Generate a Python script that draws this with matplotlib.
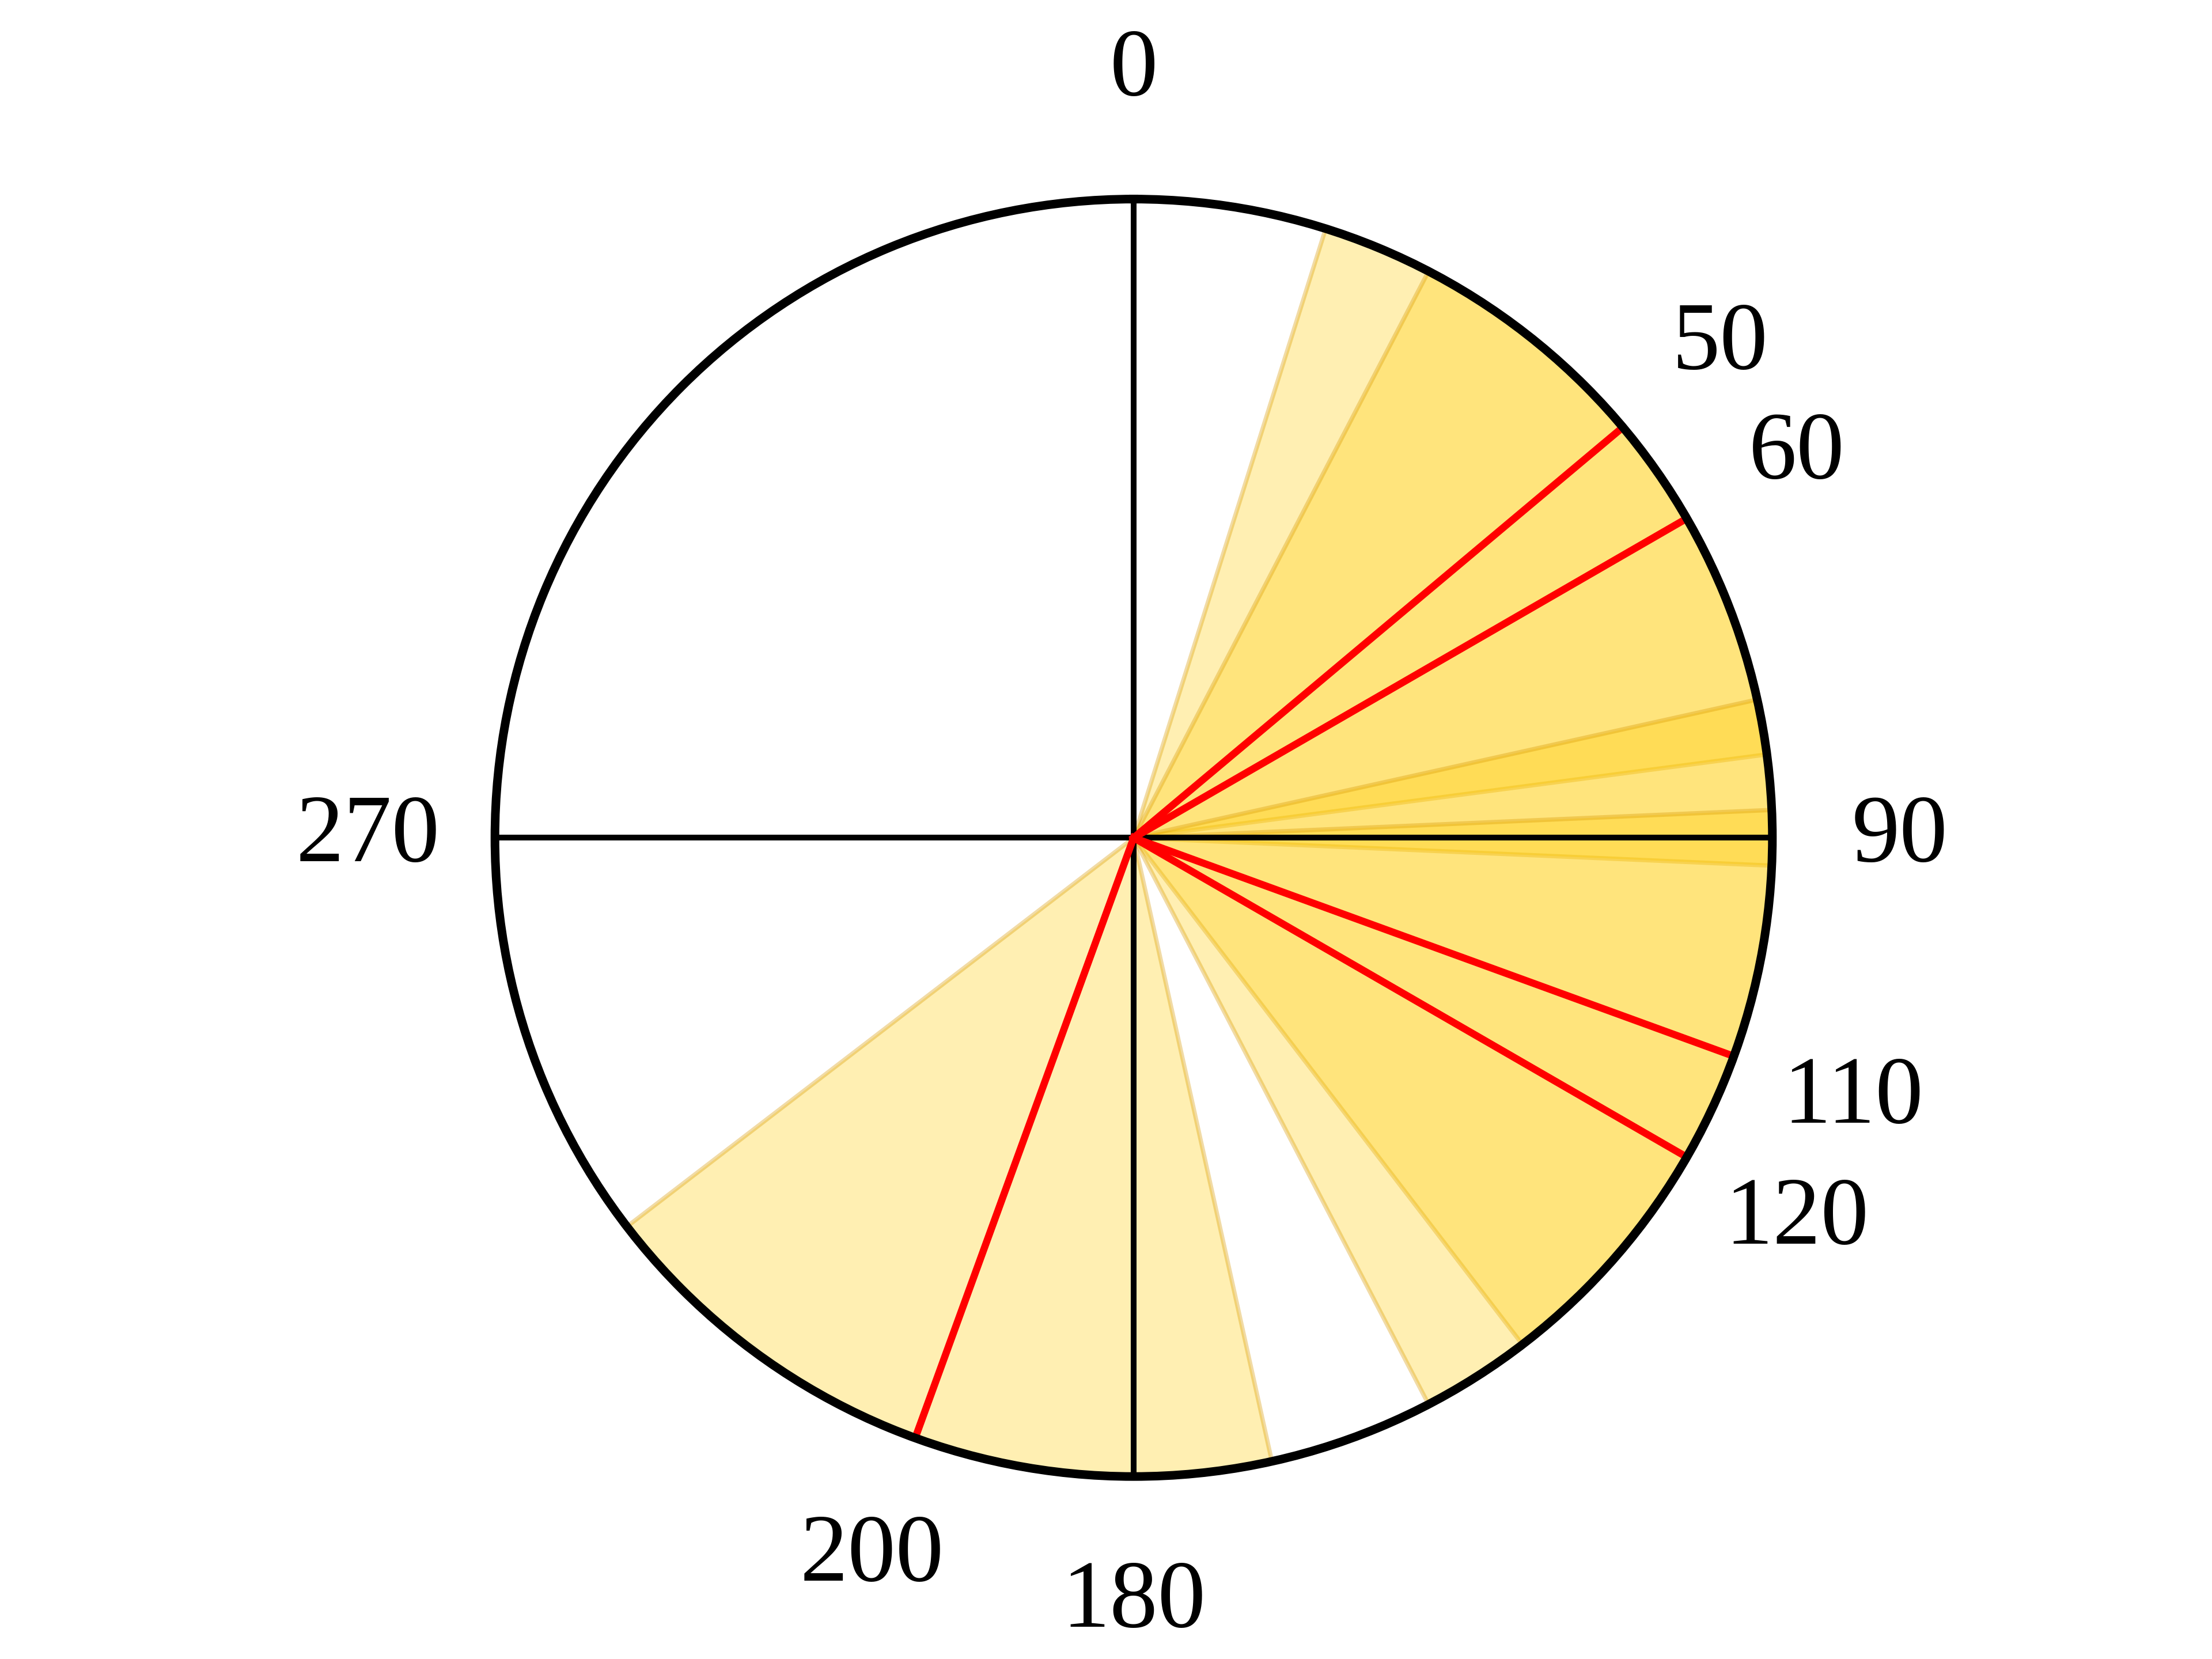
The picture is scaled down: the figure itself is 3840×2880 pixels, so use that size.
import numpy as np
import matplotlib.pyplot as plt

plt.rcParams['font.family'] = 'serif'
plt.rcParams['font.serif'] = ['Liberation Serif', 'Times New Roman', 'DejaVu Serif']

# directions (degrees, clockwise from north) and the width of each sector
directions = [50, 60, 110, 120, 200]
spread = 65
compass = [0, 90, 180, 270]

fig = plt.figure(figsize=(6.4, 4.8), dpi=600)
ax = fig.add_subplot(projection='polar')
ax.set_theta_zero_location('N')
ax.set_theta_direction(-1)

theta = np.radians(directions)

# shaded sectors
ax.bar(theta, 1, width=np.radians(spread), facecolor=(1.0, 0.8, 0.0, 0.3),
       edgecolor=(0.85, 0.6, 0.0, 0.35), linewidth=0.9)

# compass lines
for d in compass:
    ax.plot([np.radians(d)] * 2, [0, 1], color='black', linewidth=1.2)

# direction lines
for t in theta:
    ax.plot([t, t], [0, 1], color='red', linewidth=1.5)

ax.set_ylim(0, 1)
ax.set_yticks([])
ax.grid(False)

ticks = sorted(set(directions + compass))
ax.set_xticks(np.radians(ticks))
ax.set_xticklabels([str(t) for t in ticks], fontsize=20)
ax.tick_params(axis='x', pad=16)
ax.spines['polar'].set_linewidth(1.8)

fig.savefig('out.png')
